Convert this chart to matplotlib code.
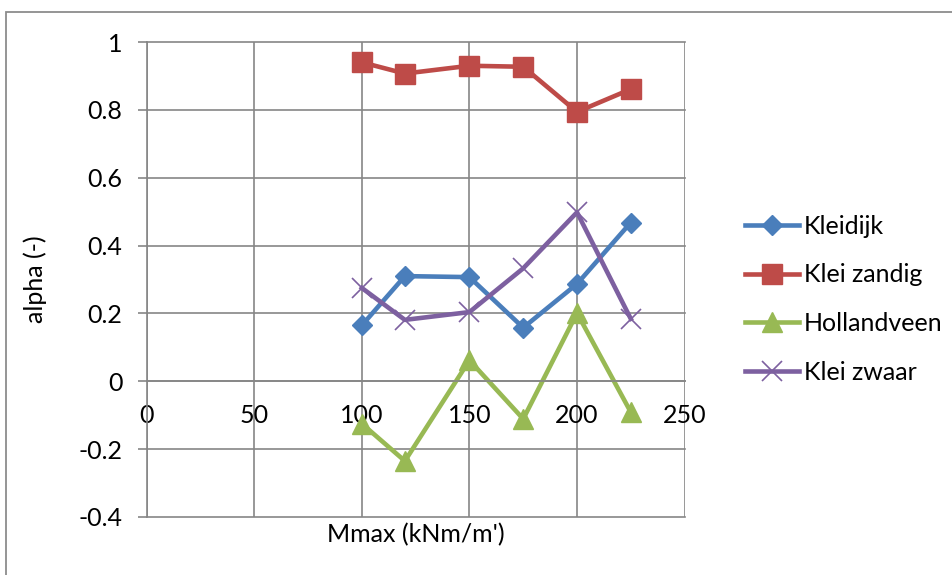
import matplotlib
matplotlib.use('Agg')
import matplotlib.pyplot as plt
from matplotlib.patches import Rectangle

# data
mmax = [100, 120, 150, 175, 200, 225]
kleidijk = [0.165, 0.310, 0.307, 0.158, 0.287, 0.468]
kleiZandig = [0.940, 0.907, 0.930, 0.927, 0.794, 0.861]
hollandveen = [-0.125, -0.235, 0.062, -0.111, 0.201, -0.091]
kleiZwaar = [0.275, 0.181, 0.204, 0.333, 0.498, 0.184]

seriesNames = ['Kleidijk', 'Klei zandig', 'Hollandveen', 'Klei zwaar']
xTicks = [0, 50, 100, 150, 200, 250]
yTicks = [-0.4, -0.2, 0, 0.2, 0.4, 0.6, 0.8, 1]
yTickLabels = ['-0.4', '-0.2', '0', '0.2', '0.4', '0.6', '0.8', '1']

GRID = '#868686'
FONT_SIZE = 18

plt.rcParams['font.family'] = ['Lato', 'DejaVu Sans']
plt.rcParams['font.size'] = FONT_SIZE

fig = plt.figure(figsize=(9.53, 5.75), dpi=100)
fig.patch.set_facecolor('white')

# outer chart border (only top and left visible in the crop)
fig.patches.append(Rectangle((6 / 953, -0.2), 1.2, 0.979 + 0.2, transform=fig.transFigure,
                             fill=False, edgecolor='#8c8c8c', linewidth=1.3))

ax = fig.add_axes([146.7 / 953, 58 / 575, (684.6 - 146.7) / 953, (517 - 42) / 575])

ax.plot(mmax, kleidijk, color='#4a7ebb', linewidth=3.3, marker='D', markersize=10.5, label=seriesNames[0])
ax.plot(mmax, kleiZandig, color='#be4b48', linewidth=3.3, marker='s', markersize=14, label=seriesNames[1])
ax.plot(mmax, hollandveen, color='#98b954', linewidth=3.3, marker='^', markersize=15, label=seriesNames[2])
ax.plot(mmax, kleiZwaar, color='#7d60a0', linewidth=3.3, marker='x', markersize=14, markeredgewidth=1.2,
        label=seriesNames[3])

ax.set_xlim(0, 250)
ax.set_ylim(-0.4, 1)
ax.set_xticks(xTicks)
ax.set_yticks(yTicks)
ax.set_yticklabels(yTickLabels)

ax.grid(True, color=GRID, linewidth=1.2)
ax.set_axisbelow(True)
for gl in ax.get_xgridlines() + ax.get_ygridlines():
    gl.set_clip_on(False)

ax.spines['top'].set_visible(False)
ax.spines['right'].set_visible(False)
ax.spines['left'].set_color(GRID)
ax.spines['left'].set_linewidth(1.2)
ax.spines['bottom'].set_position(('data', 0))
ax.spines['bottom'].set_color(GRID)
ax.spines['bottom'].set_linewidth(1.2)

ax.tick_params(axis='y', direction='out', length=6.5, width=1.2, color=GRID, pad=11, labelsize=FONT_SIZE)
ax.tick_params(axis='x', length=0, pad=16, labelsize=FONT_SIZE)

fig.text(35 / 953, (575 - 279.5) / 575, 'alpha (-)', rotation=90, ha='center', va='center', fontsize=FONT_SIZE)
fig.text(415.6 / 953, (575 - 535) / 575, "Mmax (kNm/m')", ha='center', va='center', fontsize=FONT_SIZE)

ax.legend(loc='center left', bbox_to_anchor=(745 / 953, (575 - 299.2) / 575), bbox_transform=fig.transFigure,
          frameon=False, borderpad=0, borderaxespad=0, handlelength=2.15, handletextpad=0.2,
          labelspacing=1.03, fontsize=FONT_SIZE)

fig.savefig('out.png', dpi=100, facecolor='white')
